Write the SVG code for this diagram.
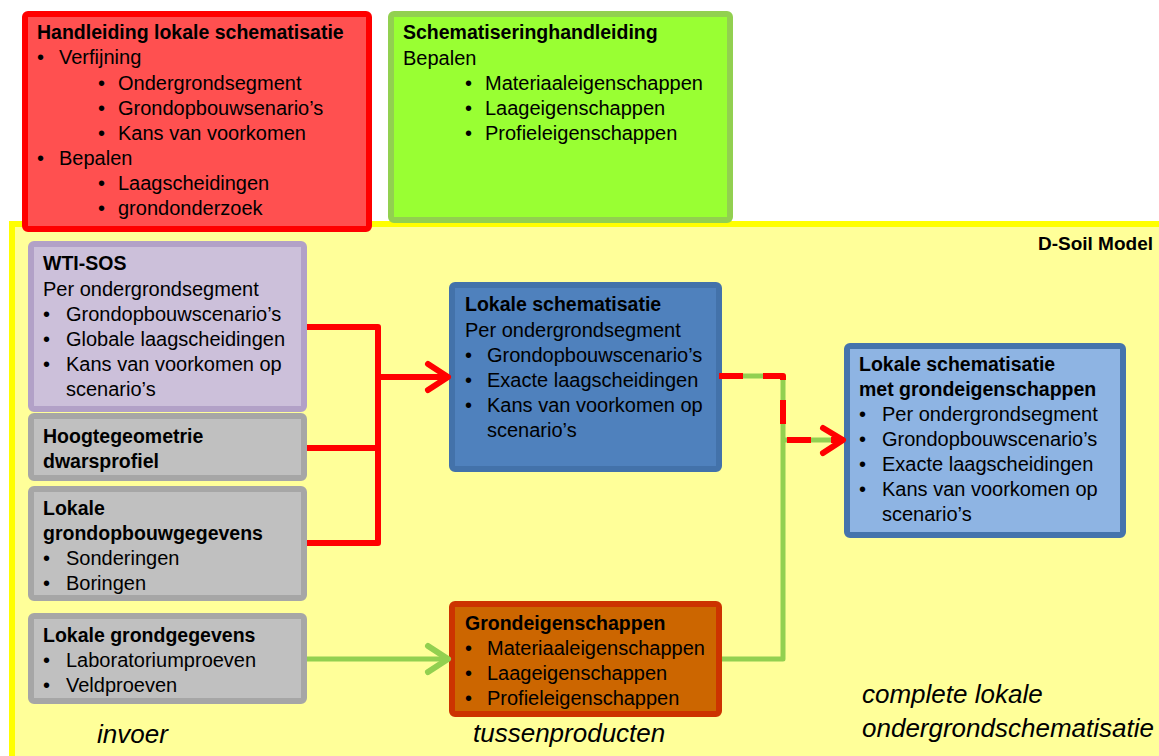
<svg xmlns="http://www.w3.org/2000/svg" width="1159" height="756" viewBox="0 0 1159 756">
<defs>
<style>
text{font-family:"Liberation Sans",Arial,Helvetica,sans-serif;fill:#000}
.t{font-size:20px}
.b{font-size:19.5px;font-weight:bold}
.i{font-size:26px;font-style:italic}
.box{stroke-width:6}
.red{fill:none;stroke:#FF0000;stroke-width:6;stroke-linejoin:round}
.grn{fill:none;stroke:#92D050;stroke-width:5;stroke-linejoin:round}
.head{fill:none;stroke-width:6;stroke-linecap:round;stroke-linejoin:round}
</style>
</defs>
<rect width="1159" height="756" fill="#FFFFFF"/>
<g id="dsoil">
<rect x="12" y="224" width="1160" height="545" fill="#FFFF99" stroke="#FFFF00" stroke-width="6"/>
<text class="b" x="1153" y="250" text-anchor="end" style="font-size:19px">D-Soil Model</text>
</g>
<g id="handleiding">
<rect class="box" x="25" y="14" width="344" height="215" rx="3" fill="#FF5050" stroke="#FF0000"/>
<text class="b" x="37" y="39">Handleiding lokale schematisatie</text>
<text class="t" x="37" y="64">•</text><text class="t" x="59" y="64">Verfijning</text>
<text class="t" x="98" y="90">•</text><text class="t" x="118" y="90">Ondergrondsegment</text>
<text class="t" x="98" y="115">•</text><text class="t" x="118" y="115">Grondopbouwsenario’s</text>
<text class="t" x="98" y="140">•</text><text class="t" x="118" y="140">Kans van voorkomen</text>
<text class="t" x="37" y="165">•</text><text class="t" x="59" y="165">Bepalen</text>
<text class="t" x="98" y="190">•</text><text class="t" x="118" y="190">Laagscheidingen</text>
<text class="t" x="98" y="215">•</text><text class="t" x="118" y="215">grondonderzoek</text>
</g>
<g id="schematiseringhandleiding">
<rect class="box" x="391" y="14" width="339" height="206" rx="3" fill="#99FF33" stroke="#92D050"/>
<text class="b" x="403" y="39">Schematiseringhandleiding</text>
<text class="t" x="403" y="65">Bepalen</text>
<text class="t" x="465" y="90">•</text><text class="t" x="485" y="90">Materiaaleigenschappen</text>
<text class="t" x="465" y="115">•</text><text class="t" x="485" y="115">Laageigenschappen</text>
<text class="t" x="465" y="140">•</text><text class="t" x="485" y="140">Profieleigenschappen</text>
</g>
<g id="wtisos">
<rect class="box" x="31" y="244" width="273" height="165" rx="3" fill="#CCC0DA" stroke="#B2A1C7"/>
<text class="b" x="43" y="270">WTI-SOS</text>
<text class="t" x="43" y="296">Per ondergrondsegment</text>
<text class="t" x="43" y="321">•</text><text class="t" x="66" y="321">Grondopbouwscenario’s</text>
<text class="t" x="43" y="346">•</text><text class="t" x="66" y="346">Globale laagscheidingen</text>
<text class="t" x="43" y="371">•</text><text class="t" x="66" y="371">Kans van voorkomen op</text>
<text class="t" x="66" y="396">scenario’s</text>
</g>
<g id="hoogtegeometrie">
<rect class="box" x="31" y="416" width="273" height="62" rx="3" fill="#C0C0C0" stroke="#A6A6A6"/>
<text class="b" x="43" y="443">Hoogtegeometrie</text>
<text class="b" x="43" y="468">dwarsprofiel</text>
</g>
<g id="grondopbouwgegevens">
<rect class="box" x="31" y="489" width="273" height="109" rx="3" fill="#C0C0C0" stroke="#A6A6A6"/>
<text class="b" x="43" y="515">Lokale</text>
<text class="b" x="43" y="540">grondopbouwgegevens</text>
<text class="t" x="43" y="565">•</text><text class="t" x="66" y="565">Sonderingen</text>
<text class="t" x="43" y="590">•</text><text class="t" x="66" y="590">Boringen</text>
</g>
<g id="grondgegevens">
<rect class="box" x="31" y="616" width="273" height="85" rx="3" fill="#C0C0C0" stroke="#A6A6A6"/>
<text class="b" x="43" y="642">Lokale grondgegevens</text>
<text class="t" x="43" y="667">•</text><text class="t" x="66" y="667">Laboratoriumproeven</text>
<text class="t" x="43" y="692">•</text><text class="t" x="66" y="692">Veldproeven</text>
</g>
<g id="lokaleschematisatie">
<rect class="box" x="452" y="285" width="267" height="184" rx="3" fill="#4F81BD" stroke="#4372AA"/>
<text class="b" x="465" y="311">Lokale schematisatie</text>
<text class="t" x="465" y="337">Per ondergrondsegment</text>
<text class="t" x="465" y="362">•</text><text class="t" x="487" y="362">Grondopbouwscenario’s</text>
<text class="t" x="465" y="387">•</text><text class="t" x="487" y="387">Exacte laagscheidingen</text>
<text class="t" x="465" y="412">•</text><text class="t" x="487" y="412">Kans van voorkomen op</text>
<text class="t" x="487" y="437">scenario’s</text>
</g>
<g id="grondeigenschappen">
<rect class="box" x="452" y="604" width="267" height="110" rx="3" fill="#CC6600" stroke="#CC3300"/>
<text class="b" x="465" y="630">Grondeigenschappen</text>
<text class="t" x="465" y="655">•</text><text class="t" x="487" y="655">Materiaaleigenschappen</text>
<text class="t" x="465" y="680">•</text><text class="t" x="487" y="680">Laageigenschappen</text>
<text class="t" x="465" y="705">•</text><text class="t" x="487" y="705">Profieleigenschappen</text>
</g>
<g id="compleet">
<rect class="box" x="847" y="346" width="276" height="189" rx="3" fill="#8EB4E3" stroke="#4574AC"/>
<text class="b" x="859" y="371">Lokale schematisatie</text>
<text class="b" x="859" y="396">met grondeigenschappen</text>
<text class="t" x="859" y="421">•</text><text class="t" x="882" y="421">Per ondergrondsegment</text>
<text class="t" x="859" y="446">•</text><text class="t" x="882" y="446">Grondopbouwscenario’s</text>
<text class="t" x="859" y="471">•</text><text class="t" x="882" y="471">Exacte laagscheidingen</text>
<text class="t" x="859" y="496">•</text><text class="t" x="882" y="496">Kans van voorkomen op</text>
<text class="t" x="882" y="521">scenario’s</text>
</g>
<g id="connectors">
<path class="red" d="M307 327 H378 V543 H307 M307 448 H378 M378 377 H447"/>
<path class="head" stroke="#FF0000" d="M428 364 L448 377 L428 390"/>
<path class="grn" d="M307 659 H447"/>
<path class="head" stroke="#92D050" d="M428 646 L448 659 L428 672"/>
<path class="grn" d="M722 659 H783 V376 H722 M783 440 H840"/>
<path class="red" stroke-dasharray="24 20" d="M719 376 H783 V440 H842"/>
<path class="head" stroke="#FF0000" d="M823 428 L843 440 L823 453"/>
</g>
<g id="labels">
<text class="i" x="97" y="743">invoer</text>
<text class="i" x="473" y="742">tussenproducten</text>
<text class="i" x="862" y="703">complete lokale</text>
<text class="i" x="862" y="737">ondergrondschematisatie</text>
</g>
</svg>
